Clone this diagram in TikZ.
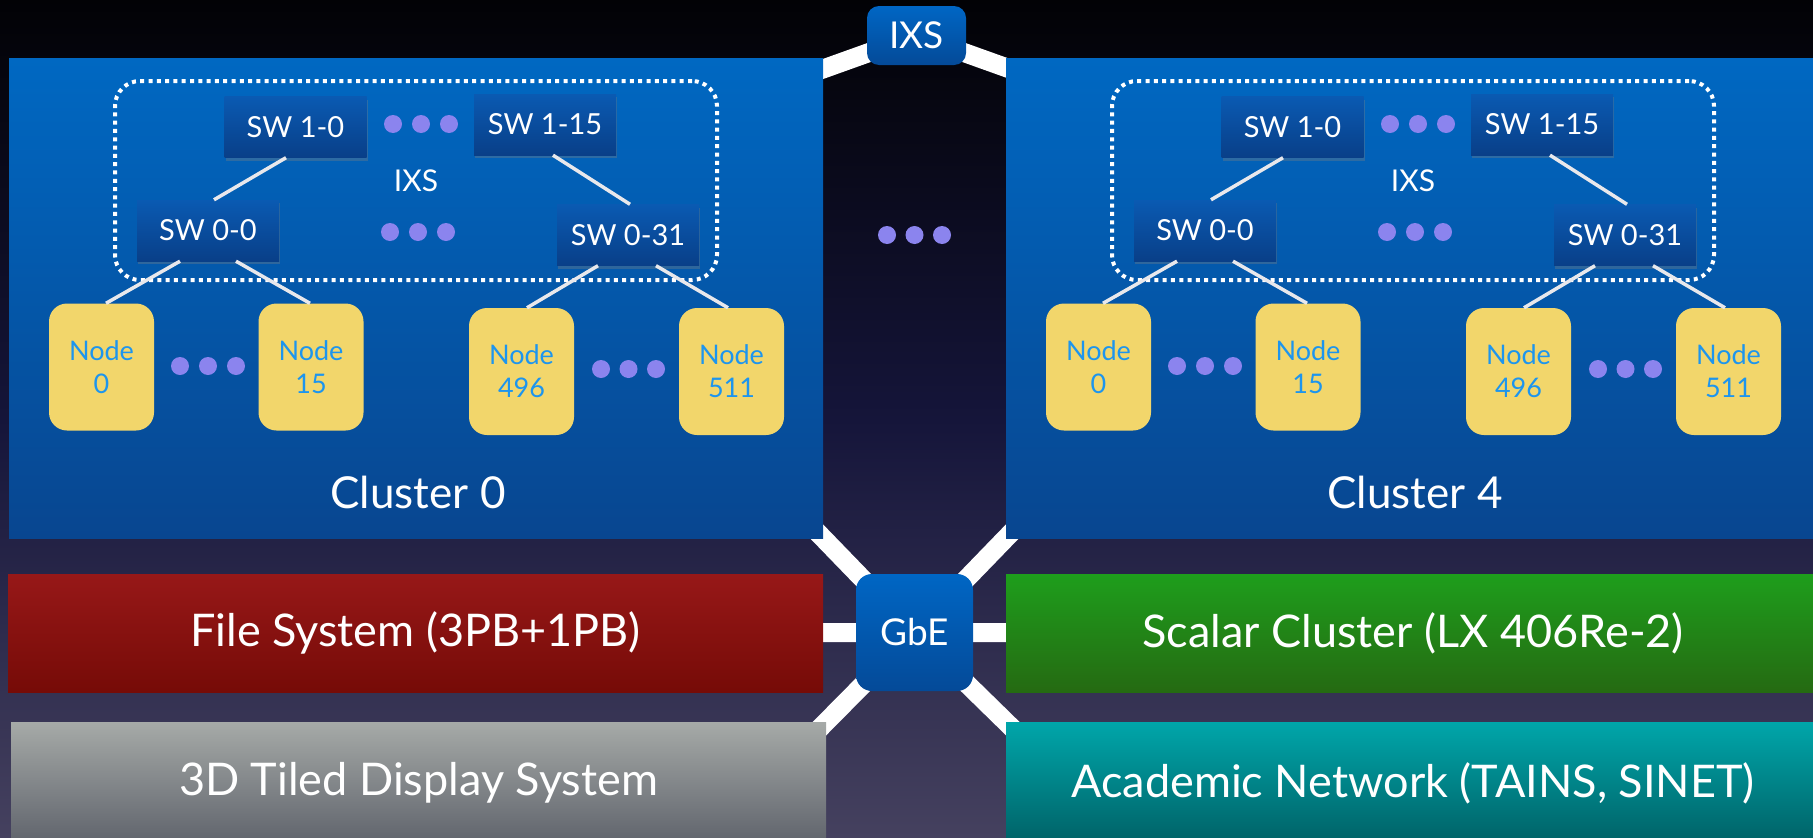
\documentclass[tikz,border=0pt]{standalone}
\usepackage{fontspec}
\setmainfont{Lato}
\usetikzlibrary{calc,shadows}
\definecolor{bgTop}{HTML}{020205}
\definecolor{bgMid}{HTML}{15153A}
\definecolor{bgBot}{HTML}{45415F}
\definecolor{clTop}{HTML}{0068C2}
\definecolor{clBot}{HTML}{084690}
\definecolor{swTop}{HTML}{0A5AB2}
\definecolor{swBot}{HTML}{093F88}
\definecolor{hubTop}{HTML}{0066C4}
\definecolor{hubBot}{HTML}{044A98}
\definecolor{ndFill}{HTML}{F2D66B}
\definecolor{ndText}{HTML}{1D95EE}
\definecolor{dotC}{HTML}{8B84EE}
\definecolor{fsTop}{HTML}{971818}
\definecolor{fsBot}{HTML}{760B07}
\definecolor{tdTop}{HTML}{A6AAA8}
\definecolor{tdBot}{HTML}{5F636B}
\definecolor{scTop}{HTML}{1E9E1C}
\definecolor{scBot}{HTML}{256A12}
\definecolor{anTop}{HTML}{00A6AA}
\definecolor{anBot}{HTML}{006166}
\definecolor{linkC}{HTML}{E8E8EC}
\newcommand\swfont{\fontsize{29}{31}\selectfont}
\newcommand\ndfont{\fontsize{27}{33}\selectfont}
\newcommand\cllfont{\fontsize{44}{48}\selectfont}
\newcommand\barfont{\fontsize{45}{50}\selectfont}
\newcommand\hubfont{\fontsize{37}{40}\selectfont}
\newcommand\ixsfont{\fontsize{30}{32}\selectfont}
\pgfdeclarelayer{back}
\pgfdeclarelayer{links}
\pgfsetlayers{back,links,main}
\tikzset{
  clusterbox/.style={rectangle, inner sep=0, top color=clTop, bottom color=clBot,
    minimum width=814, minimum height=480},
  ixsarea/.style={rectangle, rounded corners=25, draw=white, line width=4,
    dash pattern=on 4 off 4.3, inner sep=0, minimum width=602, minimum height=199,
    text=white, font=\ixsfont},
  swbox/.style={rectangle, inner sep=0, top color=swTop, bottom color=swBot,
    minimum width=142, minimum height=61, text=white, font=\swfont,
    drop shadow={shadow xshift=1pt, shadow yshift=-3pt, opacity=0.35}},
  nodebox/.style={rectangle, rounded corners=18, inner sep=0, fill=ndFill,
    minimum width=105, minimum height=127, text=ndText, font=\ndfont, align=center},
  cllabel/.style={text=white, font=\cllfont, inner sep=0},
  swlink/.style={draw=linkC, line width=3.5},
  hub/.style={rectangle, inner sep=0, top color=hubTop, bottom color=hubBot,
    text=white, font=\hubfont},
  bar/.style={rectangle, inner sep=0, text=white, font=\barfont},
  band/.style={draw=white, line width=19},
  purpledot/.style={fill=dotC}
}
\newcommand\threedots[3]{% x of first centre, y, spacing
  \fill[purpledot] (#1,#2) circle (9);
  \fill[purpledot] ({#1+#3},#2) circle (9);
  \fill[purpledot] ({#1+2*#3},#2) circle (9);}
\newcommand\clusterpart[3]{%
\begin{scope}[xshift=#2]
  \node[clusterbox] (#1box) at (416,298) {};
  \node[ixsarea] (#1ixs) at (416,180.5) {IXS};
  \node[swbox] (#1sw10) at (295.5,127) {SW 1-0};
  \node[swbox] (#1sw115) at (545,124.5) {SW 1-15};
  \node[swbox] (#1sw00) at (208,230.5) {SW 0-0};
  \node[swbox] (#1sw031) at (628,235) {SW 0-31};
  \node[nodebox] (#1n0) at (101.5,367) {Node\\0};
  \node[nodebox] (#1n15) at (311,367) {Node\\15};
  \node[nodebox] (#1n496) at (521.5,371.5) {Node\\496};
  \node[nodebox] (#1n511) at (731.5,371.5) {Node\\511};
  \node[cllabel] (#1lab) at (418,492) {Cluster #3};
  \draw[swlink] ($(#1sw10.south)+(-9.5,0)$) -- ($(#1sw00.north)+(6,0)$);
  \draw[swlink] ($(#1sw115.south)+(8,0)$) -- ($(#1sw031.north)+(2,0)$);
  \draw[swlink] ($(#1sw00.south)+(-28,0)$) -- ($(#1n0.north)+(4.5,0)$);
  \draw[swlink] ($(#1sw00.south)+(28,0)$) -- ($(#1n15.north)+(-1,0)$);
  \draw[swlink] ($(#1sw031.south)+(-30,0)$) -- ($(#1n496.north)+(5.5,0)$);
  \draw[swlink] ($(#1sw031.south)+(28,0)$) -- ($(#1n511.north)+(-3.5,0)$);
  \threedots{393}{124}{28}
  \threedots{390}{232}{28}
  \threedots{180}{366}{28}
  \threedots{601}{369}{27.5}
\end{scope}}
\begin{document}
\begin{tikzpicture}[x=1pt,y=-1pt]
\useasboundingbox (0,0) rectangle (1813,838);
\begin{pgfonlayer}{back}
  \shade[top color=bgTop, bottom color=bgBot, middle color=bgMid] (0,0) rectangle (1813,838);
\end{pgfonlayer}
\clusterpart{a}{0}{0}
\clusterpart{b}{997}{4}
\threedots{887}{235}{27.5}
\node[hub, rounded corners=12, minimum width=99, minimum height=59] (ixstop) at (916.5,35.5) {IXS};
\node[hub, rounded corners=16, minimum width=117, minimum height=117] (gbe) at (914.5,632.5) {GbE};
\node[bar, top color=fsTop, bottom color=fsBot, minimum width=815, minimum height=118] (fs) at (415.5,633) {File System (3PB+1PB)};
\node[bar, top color=tdTop, bottom color=tdBot, minimum width=815, minimum height=122] (td) at (418.5,783) {3D Tiled Display System};
\node[bar, top color=scTop, bottom color=scBot, minimum width=814, minimum height=118] (sc) at (1413,633) {Scalar Cluster (LX 406Re-2)};
\node[bar, top color=anTop, bottom color=anBot, minimum width=814, minimum height=122] (an) at (1413,783) {Academic Network (TAINS, SINET)};
\coordinate (ta) at (770,88);
\coordinate (tb) at (1063,88);
\begin{pgfonlayer}{links}
  \draw[band] (ixstop.center) -- (ta);
  \draw[band] (ixstop.center) -- (tb);
  \draw[band] (gbe.center) -- ($(gbe.center)!1.4!(abox.south east)$);
  \draw[band] (gbe.center) -- ($(gbe.center)!1.4!(bbox.south west)$);
  \draw[band] (gbe.center) -- ($(gbe.center)!1.4!(td.north east)$);
  \draw[band] (gbe.center) -- ($(gbe.center)!1.4!(an.north west)$);
  \draw[band] (gbe.center) -- (fs.center);
  \draw[band] (gbe.center) -- (sc.center);
\end{pgfonlayer}
\end{tikzpicture}
\end{document}
